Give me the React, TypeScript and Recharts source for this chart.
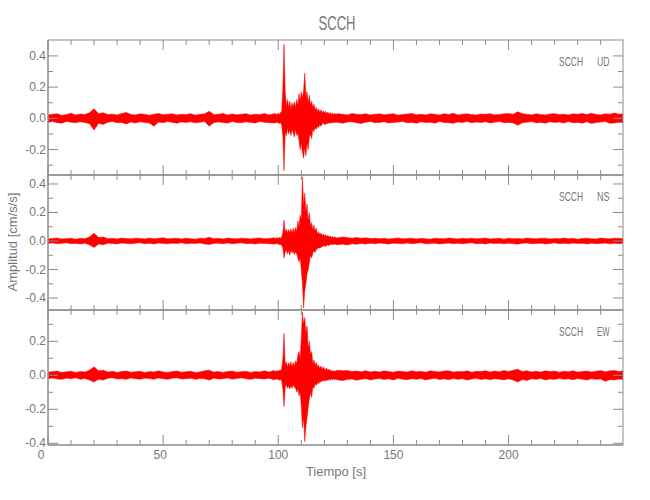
import { AreaChart, Area, XAxis, YAxis } from 'recharts';

// time samples (s): 2 s steps in the quiet parts, 0.5 s through the burst
const TIME = [
  0, 2, 4, 6, 8, 10, 12, 14, 16, 18, 20, 22, 24, 26, 28, 30, 32, 34, 36, 38,
  40, 42, 44, 46, 48, 50, 52, 54, 56, 58, 60, 62, 64, 66, 68, 70, 72, 74, 76, 78,
  80, 82, 84, 86, 88, 90, 92, 94, 96, 98,
  99, 99.5, 100, 100.5, 101, 101.5, 102, 102.5, 103, 103.5, 104, 104.5,
  105, 105.5, 106, 106.5, 107, 107.5, 108, 108.5, 109, 109.5, 110, 110.5,
  111, 111.5, 112, 112.5, 113, 113.5, 114, 114.5, 115, 115.5, 116, 116.5,
  117, 117.5, 118, 118.5, 119, 119.5, 120, 120.5, 121, 121.5, 122, 122.5,
  123, 123.5, 124, 124.5, 125,
  126, 128, 130, 132, 134, 136, 138, 140, 142, 144, 146, 148, 150, 152, 154, 156, 158, 160, 162, 164,
  166, 168, 170, 172, 174, 176, 178, 180, 182, 184, 186, 188, 190, 192, 194, 196, 198, 200, 202, 204,
  206, 208, 210, 212, 214, 216, 218, 220, 222, 224, 226, 228, 230, 232, 234, 236, 238, 240, 242, 244,
  246, 248, 250,
];

// upper / lower envelope of each trace (cm/s/s)
const UD_HI = [
  0.022, 0.027, 0.03, 0.019, 0.025, 0.033, 0.021, 0.028, 0.024, 0.036,
  0.062, 0.03, 0.036, 0.024, 0.027, 0.021, 0.031, 0.038, 0.025, 0.022,
  0.029, 0.026, 0.02, 0.027, 0.031, 0.023, 0.026, 0.03, 0.021, 0.027,
  0.024, 0.03, 0.02, 0.026, 0.029, 0.046, 0.024, 0.027, 0.031, 0.022,
  0.028, 0.023, 0.026, 0.03, 0.021, 0.027, 0.024, 0.031, 0.022, 0.029,
  0.03, 0.022, 0.034, 0.025, 0.038, 0.045,
  0.2, 0.475, 0.17, 0.08, 0.12, 0.07,
  0.11, 0.06, 0.1, 0.075, 0.105, 0.07,
  0.12, 0.09, 0.16, 0.11, 0.17, 0.13,
  0.18, 0.29, 0.14, 0.17, 0.1, 0.15,
  0.08, 0.11, 0.07, 0.09, 0.055, 0.07,
  0.045, 0.06, 0.04, 0.055, 0.035, 0.05,
  0.035, 0.045, 0.03, 0.04, 0.028, 0.038,
  0.026, 0.035, 0.024, 0.032, 0.026,
  0.03, 0.026, 0.022, 0.031, 0.027, 0.024, 0.03, 0.021, 0.027, 0.029,
  0.023, 0.026, 0.03, 0.02, 0.025, 0.028, 0.031, 0.023, 0.026, 0.022,
  0.029, 0.027, 0.021, 0.03, 0.025, 0.032, 0.022, 0.027, 0.029, 0.024,
  0.021, 0.028, 0.026, 0.03, 0.022, 0.025, 0.029, 0.031, 0.026, 0.042,
  0.03, 0.027, 0.022, 0.029, 0.025, 0.021, 0.028, 0.03, 0.024, 0.027,
  0.022, 0.029, 0.026, 0.031, 0.024, 0.033, 0.025, 0.022, 0.029, 0.027,
  0.034, 0.026, 0.03,
];
const UD_LO = [
  -0.026, -0.021, -0.028, -0.031, -0.02, -0.025, -0.029, -0.022, -0.027, -0.034,
  -0.075, -0.032, -0.04, -0.025, -0.02, -0.029, -0.026, -0.036, -0.024, -0.03,
  -0.022, -0.027, -0.03, -0.05, -0.024, -0.028, -0.021, -0.026, -0.031, -0.023,
  -0.027, -0.022, -0.029, -0.025, -0.02, -0.05, -0.028, -0.023, -0.026, -0.031,
  -0.02, -0.027, -0.029, -0.022, -0.026, -0.03, -0.021, -0.025, -0.028, -0.03,
  -0.028, -0.025, -0.03, -0.033, -0.028, -0.045,
  -0.12, -0.335, -0.09, -0.11, -0.065, -0.1,
  -0.075, -0.11, -0.07, -0.095, -0.12, -0.07,
  -0.11, -0.095, -0.14, -0.2, -0.16, -0.22,
  -0.255, -0.19, -0.24, -0.16, -0.2, -0.12,
  -0.1, -0.13, -0.07, -0.085, -0.06, -0.07,
  -0.05, -0.058, -0.04, -0.05, -0.04, -0.032,
  -0.036, -0.042, -0.03, -0.034, -0.028, -0.032,
  -0.027, -0.03, -0.025, -0.028, -0.024,
  -0.027, -0.031, -0.024, -0.022, -0.029, -0.033, -0.025, -0.02, -0.028, -0.026,
  -0.022, -0.03, -0.027, -0.024, -0.02, -0.029, -0.026, -0.031, -0.022, -0.027,
  -0.025, -0.031, -0.021, -0.026, -0.029, -0.032, -0.023, -0.027, -0.02, -0.029,
  -0.024, -0.027, -0.022, -0.03, -0.025, -0.021, -0.028, -0.026, -0.03, -0.045,
  -0.028, -0.025, -0.021, -0.029, -0.026, -0.031, -0.022, -0.027, -0.024, -0.03,
  -0.021, -0.028, -0.026, -0.031, -0.022, -0.033, -0.027, -0.024, -0.021, -0.032,
  -0.03, -0.025, -0.028,
];

const NS_HI = [
  0.015, 0.018, 0.021, 0.014, 0.017, 0.02, 0.013, 0.019, 0.016, 0.028,
  0.055, 0.024, 0.028, 0.016, 0.019, 0.014, 0.021, 0.017, 0.015, 0.02,
  0.018, 0.014, 0.021, 0.016, 0.019, 0.022, 0.015, 0.017, 0.02, 0.014,
  0.019, 0.016, 0.013, 0.02, 0.018, 0.026, 0.016, 0.019, 0.014, 0.021,
  0.017, 0.015, 0.02, 0.018, 0.014, 0.019, 0.021, 0.016, 0.018, 0.022,
  0.018, 0.024, 0.017, 0.026, 0.02, 0.03,
  0.06, 0.147, 0.06, 0.085, 0.055, 0.08,
  0.06, 0.085, 0.055, 0.09, 0.06, 0.095,
  0.07, 0.14, 0.1, 0.18, 0.15, 0.45,
  0.25, 0.335, 0.2, 0.26, 0.14, 0.2,
  0.1, 0.13, 0.08, 0.11, 0.07, 0.09,
  0.05, 0.065, 0.045, 0.055, 0.038, 0.05,
  0.035, 0.045, 0.03, 0.04, 0.028, 0.035,
  0.025, 0.032, 0.022, 0.03, 0.022,
  0.022, 0.028, 0.024, 0.02, 0.025, 0.019, 0.022, 0.017, 0.02, 0.016,
  0.019, 0.014, 0.018, 0.021, 0.015, 0.017, 0.02, 0.014, 0.019, 0.016,
  0.013, 0.02, 0.017, 0.015, 0.021, 0.018, 0.014, 0.019, 0.016, 0.02,
  0.015, 0.018, 0.021, 0.014, 0.017, 0.019, 0.013, 0.02, 0.016, 0.018,
  0.014, 0.021, 0.017, 0.015, 0.019, 0.02, 0.014, 0.018, 0.016, 0.021,
  0.015, 0.019, 0.013, 0.018, 0.02, 0.016, 0.014, 0.021, 0.017, 0.015,
  0.019, 0.02, 0.016,
];
const NS_LO = [
  -0.017, -0.014, -0.02, -0.016, -0.013, -0.019, -0.017, -0.021, -0.015, -0.026,
  -0.045, -0.021, -0.026, -0.015, -0.018, -0.021, -0.014, -0.017, -0.02, -0.015,
  -0.013, -0.019, -0.016, -0.021, -0.014, -0.018, -0.02, -0.015, -0.017, -0.013,
  -0.02, -0.016, -0.018, -0.014, -0.021, -0.024, -0.017, -0.015, -0.019, -0.014,
  -0.02, -0.016, -0.013, -0.019, -0.017, -0.021, -0.015, -0.018, -0.02, -0.021,
  -0.02, -0.018, -0.025, -0.022, -0.026, -0.03,
  -0.05, -0.12, -0.08, -0.06, -0.09, -0.07,
  -0.1, -0.065, -0.085, -0.07, -0.095, -0.075,
  -0.09, -0.12, -0.145, -0.12, -0.2, -0.3,
  -0.47, -0.35, -0.3, -0.23, -0.2, -0.15,
  -0.1, -0.12, -0.085, -0.07, -0.08, -0.06,
  -0.055, -0.045, -0.05, -0.045, -0.038, -0.035,
  -0.033, -0.04, -0.03, -0.028, -0.032, -0.025,
  -0.022, -0.027, -0.024, -0.021, -0.024,
  -0.026, -0.022, -0.028, -0.02, -0.023, -0.018, -0.021, -0.016, -0.02, -0.014,
  -0.018, -0.021, -0.015, -0.017, -0.02, -0.014, -0.019, -0.016, -0.013, -0.02,
  -0.017, -0.015, -0.021, -0.018, -0.014, -0.019, -0.016, -0.02, -0.015, -0.013,
  -0.019, -0.017, -0.021, -0.014, -0.018, -0.016, -0.02, -0.015, -0.019, -0.022,
  -0.016, -0.014, -0.02, -0.018, -0.015, -0.021, -0.017, -0.013, -0.019, -0.016,
  -0.02, -0.014, -0.018, -0.016, -0.021, -0.015, -0.019, -0.017, -0.014, -0.02,
  -0.016, -0.019, -0.015,
];

const EW_HI = [
  0.018, 0.022, 0.025, 0.016, 0.021, 0.024, 0.017, 0.023, 0.02, 0.03,
  0.05, 0.026, 0.03, 0.019, 0.024, 0.017, 0.022, 0.025, 0.018, 0.021,
  0.024, 0.016, 0.022, 0.019, 0.026, 0.02, 0.017, 0.023, 0.025, 0.018,
  0.021, 0.024, 0.017, 0.02, 0.026, 0.03, 0.019, 0.023, 0.017, 0.022,
  0.025, 0.018, 0.021, 0.024, 0.017, 0.022, 0.02, 0.026, 0.019, 0.028,
  0.022, 0.028, 0.024, 0.03, 0.028, 0.04,
  0.1, 0.247, 0.06, 0.08, 0.05, 0.075,
  0.055, 0.08, 0.05, 0.075, 0.055, 0.085,
  0.07, 0.12, 0.14, 0.1, 0.22, 0.37,
  0.3, 0.34, 0.25, 0.29, 0.16, 0.2,
  0.12, 0.14, 0.07, 0.09, 0.06, 0.075,
  0.05, 0.06, 0.04, 0.055, 0.035, 0.05,
  0.04, 0.032, 0.042, 0.03, 0.035, 0.028,
  0.03, 0.024, 0.028, 0.023, 0.027,
  0.03, 0.026, 0.028, 0.022, 0.025, 0.021, 0.027, 0.02, 0.024, 0.019,
  0.026, 0.022, 0.018, 0.025, 0.023, 0.019, 0.027, 0.021, 0.024, 0.018,
  0.026, 0.022, 0.02, 0.025, 0.027, 0.019, 0.023, 0.021, 0.026, 0.018,
  0.024, 0.022, 0.027, 0.019, 0.025, 0.021, 0.028, 0.023, 0.03, 0.035,
  0.022, 0.027, 0.02, 0.024, 0.019, 0.026, 0.022, 0.025, 0.018, 0.024,
  0.021, 0.027, 0.019, 0.023, 0.025, 0.02, 0.024, 0.028, 0.021, 0.026,
  0.028, 0.022, 0.027,
];
const EW_LO = [
  -0.02, -0.016, -0.022, -0.024, -0.017, -0.021, -0.015, -0.023, -0.019, -0.028,
  -0.04, -0.024, -0.028, -0.018, -0.015, -0.022, -0.02, -0.024, -0.016, -0.021,
  -0.023, -0.017, -0.019, -0.024, -0.016, -0.021, -0.023, -0.018, -0.015, -0.022,
  -0.02, -0.017, -0.024, -0.019, -0.021, -0.028, -0.017, -0.022, -0.02, -0.016,
  -0.023, -0.019, -0.015, -0.021, -0.024, -0.018, -0.02, -0.022, -0.017, -0.026,
  -0.024, -0.021, -0.026, -0.028, -0.025, -0.035,
  -0.08, -0.185, -0.07, -0.055, -0.075, -0.065,
  -0.08, -0.06, -0.077, -0.055, -0.07, -0.075,
  -0.1, -0.08, -0.12, -0.1, -0.18, -0.31,
  -0.25, -0.39, -0.3, -0.25, -0.19, -0.14,
  -0.1, -0.13, -0.07, -0.076, -0.05, -0.06,
  -0.042, -0.05, -0.038, -0.04, -0.03, -0.035,
  -0.028, -0.035, -0.026, -0.03, -0.025, -0.028,
  -0.022, -0.027, -0.021, -0.026, -0.024,
  -0.028, -0.031, -0.025, -0.022, -0.029, -0.024, -0.02, -0.027, -0.022, -0.019,
  -0.025, -0.021, -0.027, -0.018, -0.023, -0.026, -0.02, -0.024, -0.019, -0.027,
  -0.022, -0.018, -0.025, -0.021, -0.026, -0.019, -0.024, -0.02, -0.027, -0.022,
  -0.018, -0.025, -0.021, -0.026, -0.02, -0.023, -0.027, -0.021, -0.028, -0.04,
  -0.025, -0.03, -0.021, -0.024, -0.019, -0.027, -0.022, -0.025, -0.018, -0.024,
  -0.021, -0.026, -0.019, -0.023, -0.027, -0.02, -0.024, -0.022, -0.035, -0.026,
  -0.027, -0.022, -0.026,
];

const X_TICKS = [0, 10, 20, 30, 40, 50, 60, 70, 80, 90, 100, 110, 120, 130, 140, 150, 160, 170, 180, 190, 200, 210, 220, 230, 240];
const UD_TICKS = [-0.3, -0.2, -0.1, 0, 0.1, 0.2, 0.3, 0.4];
const NS_TICKS = [-0.4, -0.3, -0.2, -0.1, 0, 0.1, 0.2, 0.3, 0.4];
const EW_TICKS = [-0.4, -0.3, -0.2, -0.1, 0, 0.1, 0.2, 0.3];

const X_MAX = 249.7;
const RED = '#ff0000';
const AXIS = '#8c8c8c';
const TEXT = '#777777';
const FONT = "'Liberation Sans Narrow', 'Liberation Sans', Arial, sans-serif";
const PLOT_LEFT = 48;
const PLOT_RIGHT = 623;
const PLOT_W = PLOT_RIGHT - PLOT_LEFT;
const PANEL_H = 135;

const majorY = (v: number) => Math.abs(Math.round(v * 10)) % 2 === 0;
const majorX = (v: number) => v % 50 === 0;

// inward ticks on the left and right edges, label on the left
function LeftTick({ x, y, payload }: any) {
  const v = payload.value;
  const len = majorY(v) ? 10 : 5;
  return (
    <g>
      <line x1={x} x2={x + len} y1={y} y2={y} stroke={AXIS} />
      <line x1={x + PLOT_W} x2={x + PLOT_W - len} y1={y} y2={y} stroke={AXIS} />
      {len === 10 && (
        <text x={x - 2} y={y + 4} textAnchor="end" fontSize={12} fill={TEXT} fontFamily={FONT}>
          {v === 0 ? '0.0' : v.toFixed(1)}
        </text>
      )}
    </g>
  );
}

// inward ticks on the bottom and top edges, label below (last panel only)
function BottomTick({ x, y, payload, labels }: any) {
  const v = payload.value;
  const len = majorX(v) ? 10 : 5;
  const shift = v === 0 ? -7 : v === 50 ? -3 : 0;
  return (
    <g>
      <line x1={x} x2={x} y1={y} y2={y - len} stroke={AXIS} />
      <line x1={x} x2={x} y1={y - PANEL_H} y2={y - PANEL_H + len} stroke={AXIS} />
      {labels && len === 10 && (
        <text x={x + shift} y={y + 14} textAnchor="middle" fontSize={12} fill={TEXT} fontFamily={FONT}>
          {v}
        </text>
      )}
    </g>
  );
}

const PANELS = [
  { comp: 'UD', hi: UD_HI, lo: UD_LO, range: [-0.363, 0.502], ticks: UD_TICKS, top: 40 },
  { comp: 'NS', hi: NS_HI, lo: NS_LO, range: [-0.484, 0.463], ticks: NS_TICKS, top: 175 },
  { comp: 'EW', hi: EW_HI, lo: EW_LO, range: [-0.41, 0.384], ticks: EW_TICKS, top: 310 },
];

function Trace({ p, last }: { p: (typeof PANELS)[number]; last: boolean }) {
  const data = TIME.map((t, i) => ({ t, band: [p.lo[i], p.hi[i]] }));
  return (
    <div style={{ position: 'absolute', left: 0, top: 0 }}>
      <AreaChart
        width={650}
        height={500}
        data={data}
        margin={{ top: p.top, bottom: 500 - p.top - PANEL_H - 1, left: PLOT_LEFT - 1, right: 650 - PLOT_RIGHT }}
      >
        <XAxis
          dataKey="t"
          type="number"
          domain={[0, X_MAX]}
          allowDataOverflow
          ticks={X_TICKS}
          interval={0}
          height={1}
          tickSize={0}
          tickMargin={0}
          tickLine={false}
          axisLine={{ stroke: AXIS }}
          tick={(props: any) => <BottomTick {...props} labels={last} />}
        />
        <YAxis
          type="number"
          domain={p.range}
          allowDataOverflow
          ticks={p.ticks}
          interval={0}
          width={1}
          tickSize={0}
          tickMargin={0}
          tickLine={false}
          axisLine={{ stroke: AXIS }}
          tick={LeftTick}
        />
        <Area
          dataKey="band"
          type="linear"
          stroke={RED}
          strokeWidth={0.5}
          fill={RED}
          fillOpacity={1}
          dot={false}
          activeDot={false}
          isAnimationActive={false}
        />
      </AreaChart>
    </div>
  );
}

export default function App() {
  return (
    <div style={{ position: 'absolute', left: 0, top: 0, width: 650, height: 500, background: '#fff' }}>
      {PANELS.map((p, i) => (
        <Trace key={p.comp} p={p} last={i === PANELS.length - 1} />
      ))}
      <svg width={650} height={500} style={{ position: 'absolute', left: 0, top: 0, pointerEvents: 'none' }}>
        {PANELS.map((p) => (
          <g key={p.comp}>
            <rect x={PLOT_LEFT} y={p.top} width={PLOT_W} height={PANEL_H} fill="none" stroke={AXIS} />
            <text x={559} y={p.top + 26} fontSize={13} fill={TEXT} fontFamily={FONT} textLength={24} lengthAdjust="spacingAndGlyphs">
              SCCH
            </text>
            <text x={597} y={p.top + 26} fontSize={13} fill={TEXT} fontFamily={FONT} textLength={12.5} lengthAdjust="spacingAndGlyphs">
              {p.comp}
            </text>
          </g>
        ))}
        <text x={337} y={30} textAnchor="middle" fontSize={20} fill={TEXT} fontFamily={FONT} textLength={37} lengthAdjust="spacingAndGlyphs">
          SCCH
        </text>
        <text
          x={0}
          y={0}
          transform="translate(17, 242) rotate(-90)"
          textAnchor="middle"
          fontSize={13}
          fill={TEXT}
          fontFamily={FONT}
        >
          Amplitud [cm/s/s]
        </text>
        <text x={336} y={476} textAnchor="middle" fontSize={13} fill={TEXT} fontFamily={FONT}>
          Tiempo [s]
        </text>
      </svg>
    </div>
  );
}
